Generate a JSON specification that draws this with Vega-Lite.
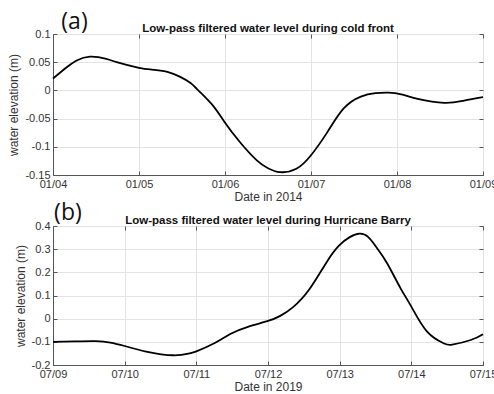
{
  "$schema": "https://vega.github.io/schema/vega-lite/v6.json",
  "background": "white",
  "padding": {"left": 7, "top": 10, "right": 5, "bottom": 5},
  "config": {
    "font": "Liberation Sans",
    "view": {"stroke": "#666", "strokeWidth": 1},
    "axis": {
      "labelFont": "Liberation Sans",
      "labelFontSize": 11,
      "labelColor": "#333",
      "labelFlush": false,
      "titleFont": "Liberation Sans",
      "titleFontSize": 12,
      "titleFontWeight": "normal",
      "titleColor": "#333",
      "domainColor": "#555",
      "tickColor": "#555",
      "tickSize": -4,
      "labelPadding": 7,
      "gridColor": "#e3e3e3",
      "gridWidth": 1
    },
    "title": {
      "font": "Liberation Sans",
      "fontSize": 11.5,
      "fontWeight": "bold",
      "color": "#111",
      "anchor": "middle",
      "offset": -24
    }
  },
  "vconcat": [
    {
      "title": "Low-pass filtered water level during cold front",
      "width": 430,
      "height": 141,
      "resolve": {"axis": {"x": "independent", "y": "independent"}},
      "layer": [
        {
          "data": {"values": [
            {"t": "2014-01-04T00:00", "wl": 0.021},
            {"t": "2014-01-04T03:50", "wl": 0.041},
            {"t": "2014-01-04T06:36", "wl": 0.053},
            {"t": "2014-01-04T10:19", "wl": 0.060},
            {"t": "2014-01-04T14:53", "wl": 0.056},
            {"t": "2014-01-04T17:46", "wl": 0.050},
            {"t": "2014-01-05T00:00", "wl": 0.040},
            {"t": "2014-01-05T03:36", "wl": 0.037},
            {"t": "2014-01-05T07:55", "wl": 0.033},
            {"t": "2014-01-05T11:31", "wl": 0.024},
            {"t": "2014-01-05T14:24", "wl": 0.013},
            {"t": "2014-01-05T17:02", "wl": -0.003},
            {"t": "2014-01-05T20:38", "wl": -0.027},
            {"t": "2014-01-05T23:46", "wl": -0.055},
            {"t": "2014-01-06T04:05", "wl": -0.091},
            {"t": "2014-01-06T08:53", "wl": -0.124},
            {"t": "2014-01-06T12:00", "wl": -0.138},
            {"t": "2014-01-06T15:22", "wl": -0.145},
            {"t": "2014-01-06T19:55", "wl": -0.139},
            {"t": "2014-01-07T00:00", "wl": -0.115},
            {"t": "2014-01-07T04:34", "wl": -0.074},
            {"t": "2014-01-07T09:07", "wl": -0.032},
            {"t": "2014-01-07T13:55", "wl": -0.011},
            {"t": "2014-01-07T18:00", "wl": -0.005},
            {"t": "2014-01-07T21:36", "wl": -0.004},
            {"t": "2014-01-08T01:12", "wl": -0.007},
            {"t": "2014-01-08T05:46", "wl": -0.015},
            {"t": "2014-01-08T13:12", "wl": -0.022},
            {"t": "2014-01-08T18:43", "wl": -0.018},
            {"t": "2014-01-09T00:00", "wl": -0.012}
          ]},
          "mark": {"type": "line", "color": "black", "strokeWidth": 1.8, "interpolate": "natural"},
          "encoding": {
            "x": {
              "field": "t", "type": "temporal",
              "scale": {"domain": [{"year": 2014, "month": 1, "date": 4}, {"year": 2014, "month": 1, "date": 9}]},
              "axis": {"title": "Date in 2014", "format": "%m/%d", "tickCount": {"interval": "day", "step": 1}, "titlePadding": 2}
            },
            "y": {
              "field": "wl", "type": "quantitative",
              "scale": {"domain": [-0.15, 0.1], "nice": false, "zero": false},
              "axis": {"title": "water elevation (m)", "values": [-0.15, -0.1, -0.05, 0, 0.05, 0.1], "labelExpr": "datum.value + ''"}
            }
          }
        },
        {
          "data": {"values": [{}]},
          "mark": {"type": "text", "font": "Open Sans", "fontSize": 23, "color": "#111", "baseline": "middle", "align": "center"},
          "encoding": {
            "x": {
              "datum": {"year": 2014, "month": 1, "date": 4, "hours": 6}, "type": "temporal",
              "axis": {"orient": "top", "labels": false, "grid": false, "domain": false, "title": null, "tickCount": {"interval": "day", "step": 1}}
            },
            "y": {
              "datum": 0.122, "type": "quantitative",
              "axis": {"orient": "right", "labels": false, "grid": false, "domain": false, "title": null, "values": [-0.15, -0.1, -0.05, 0, 0.05, 0.1]}
            },
            "text": {"value": "(a)"}
          }
        }
      ]
    },
    {
      "title": "Low-pass filtered water level during Hurricane Barry",
      "width": 430,
      "height": 139,
      "resolve": {"axis": {"x": "independent", "y": "independent"}},
      "layer": [
        {
          "data": {"values": [
            {"t": "2019-07-09T00:00", "wl": -0.100},
            {"t": "2019-07-09T07:12", "wl": -0.098},
            {"t": "2019-07-09T14:24", "wl": -0.097},
            {"t": "2019-07-09T19:12", "wl": -0.103},
            {"t": "2019-07-10T00:00", "wl": -0.118},
            {"t": "2019-07-10T07:12", "wl": -0.142},
            {"t": "2019-07-10T16:19", "wl": -0.158},
            {"t": "2019-07-10T21:36", "wl": -0.150},
            {"t": "2019-07-11T00:00", "wl": -0.141},
            {"t": "2019-07-11T06:00", "wl": -0.106},
            {"t": "2019-07-11T11:31", "wl": -0.065},
            {"t": "2019-07-11T17:17", "wl": -0.035},
            {"t": "2019-07-12T00:00", "wl": -0.010},
            {"t": "2019-07-12T04:05", "wl": 0.012},
            {"t": "2019-07-12T08:24", "wl": 0.050},
            {"t": "2019-07-12T13:55", "wl": 0.128},
            {"t": "2019-07-12T19:41", "wl": 0.245},
            {"t": "2019-07-12T23:46", "wl": 0.315},
            {"t": "2019-07-13T03:22", "wl": 0.352},
            {"t": "2019-07-13T06:43", "wl": 0.367},
            {"t": "2019-07-13T09:36", "wl": 0.352},
            {"t": "2019-07-13T12:29", "wl": 0.305},
            {"t": "2019-07-13T15:50", "wl": 0.240},
            {"t": "2019-07-13T20:24", "wl": 0.131},
            {"t": "2019-07-14T00:00", "wl": 0.052},
            {"t": "2019-07-14T05:17", "wl": -0.056},
            {"t": "2019-07-14T10:48", "wl": -0.106},
            {"t": "2019-07-14T13:41", "wl": -0.112},
            {"t": "2019-07-14T19:55", "wl": -0.092},
            {"t": "2019-07-15T00:00", "wl": -0.067}
          ]},
          "mark": {"type": "line", "color": "black", "strokeWidth": 1.8, "interpolate": "natural"},
          "encoding": {
            "x": {
              "field": "t", "type": "temporal",
              "scale": {"domain": [{"year": 2019, "month": 7, "date": 9}, {"year": 2019, "month": 7, "date": 15}]},
              "axis": {"title": "Date in 2019", "format": "%m/%d", "tickCount": {"interval": "day", "step": 1}, "titlePadding": 2}
            },
            "y": {
              "field": "wl", "type": "quantitative",
              "scale": {"domain": [-0.2, 0.4], "nice": false, "zero": false},
              "axis": {"title": "water elevation (m)", "values": [-0.2, -0.1, 0, 0.1, 0.2, 0.3, 0.4], "labelExpr": "datum.value + ''"}
            }
          }
        },
        {
          "data": {"values": [{}]},
          "mark": {"type": "text", "font": "Open Sans", "fontSize": 23, "color": "#111", "baseline": "middle", "align": "center"},
          "encoding": {
            "x": {
              "datum": {"year": 2019, "month": 7, "date": 9, "hours": 5}, "type": "temporal",
              "axis": {"orient": "top", "labels": false, "grid": false, "domain": false, "title": null, "tickCount": {"interval": "day", "step": 1}}
            },
            "y": {
              "datum": 0.455, "type": "quantitative",
              "axis": {"orient": "right", "labels": false, "grid": false, "domain": false, "title": null, "values": [-0.2, -0.1, 0, 0.1, 0.2, 0.3, 0.4]}
            },
            "text": {"value": "(b)"}
          }
        }
      ]
    }
  ],
  "spacing": -2
}
